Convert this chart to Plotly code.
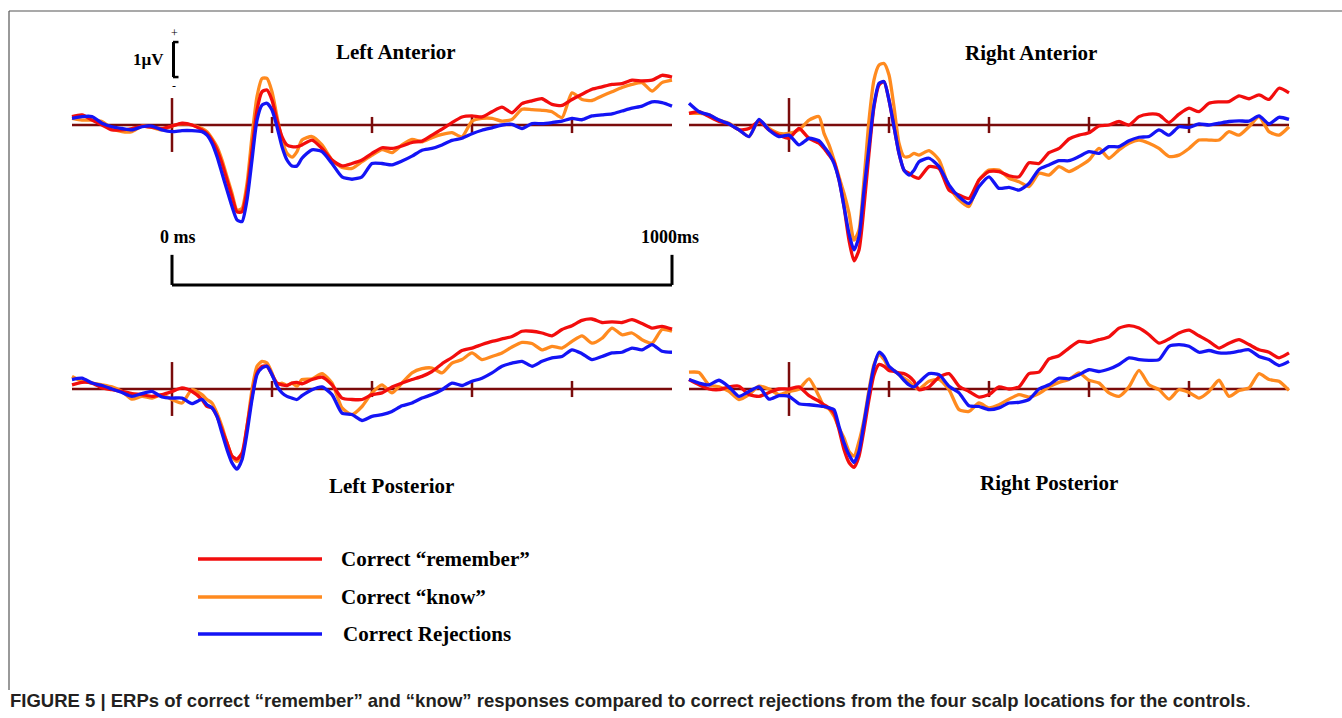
import plotly.graph_objects as go

# ---------------- data (time in ms, amplitude in microvolts, positive up) -------------
T = [-200, -180, -160, -140, -120, -100, -80, -60, -40, -20, 0, 20, 40, 60,
     70, 80, 90, 100, 110, 120, 130, 140, 150, 160, 170, 180, 190, 200, 210, 220, 230, 240, 250,
     260, 280, 300, 320, 340, 360, 380, 400, 420, 440, 460, 480, 500, 520, 540, 560, 580, 600,
     620, 640, 660, 680, 700, 720, 740, 760, 780, 800, 820, 840, 860, 880, 900, 920, 940, 960, 980, 1000]

series_names = ["Correct \u201cremember\u201d", "Correct \u201cknow\u201d", "Correct Rejections"]
panel_titles = ["Left Anterior", "Right Anterior", "Left Posterior", "Right Posterior"]
tick_times = [200, 400, 600, 800]

la_remember = [0.24, 0.29, 0.14, 0.0, -0.14, -0.14, -0.10, -0.03, -0.07, -0.10, -0.03, 0.05, 0.0, -0.14,
               -0.24, -0.43, -0.71, -1.10, -1.57, -2.05, -2.48, -2.48, -1.86, -0.71, 0.43, 0.95, 1.00, 0.71, 0.14, -0.33, -0.57, -0.62, -0.62,
               -0.57, -0.43, -0.67, -1.00, -1.17, -1.10, -1.00, -0.81, -0.65, -0.67, -0.60, -0.50, -0.46, -0.29, -0.12, 0.07, 0.23, 0.26,
               0.23, 0.38, 0.51, 0.35, 0.61, 0.69, 0.75, 0.59, 0.56, 0.73, 0.88, 1.02, 1.09, 1.16, 1.18, 1.28, 1.26, 1.28, 1.42, 1.37]
la_know = [0.19, 0.14, 0.14, 0.10, -0.10, -0.19, -0.19, -0.03, -0.07, -0.14, -0.03, 0.03, 0.0, -0.10,
           -0.19, -0.38, -0.62, -1.00, -1.48, -1.95, -2.43, -2.38, -1.67, -0.33, 0.81, 1.33, 1.33, 0.95, 0.24, -0.43, -0.81, -0.92, -0.76,
           -0.43, -0.33, -0.57, -1.00, -1.21, -1.24, -1.05, -0.86, -0.70, -0.79, -0.57, -0.41, -0.48, -0.36, -0.27, -0.22, -0.34, 0.11,
           0.19, 0.19, 0.11, 0.16, 0.45, 0.44, 0.42, 0.38, 0.21, 0.92, 0.73, 0.70, 0.83, 0.95, 1.07, 1.16, 1.21, 0.97, 1.21, 1.28]
la_reject = [0.19, 0.24, 0.24, 0.05, -0.05, -0.10, -0.14, -0.05, -0.03, -0.14, -0.19, -0.16, -0.16, -0.19,
             -0.29, -0.52, -0.90, -1.38, -1.86, -2.33, -2.71, -2.76, -2.14, -1.00, 0.14, 0.57, 0.62, 0.43, -0.05, -0.62, -1.00, -1.17, -1.17,
             -0.95, -0.71, -0.76, -1.10, -1.48, -1.55, -1.48, -1.10, -1.10, -1.14, -1.03, -0.89, -0.72, -0.67, -0.57, -0.44, -0.38, -0.25,
             -0.15, -0.08, 0.0, 0.02, -0.10, 0.04, 0.04, 0.07, 0.11, 0.19, 0.15, 0.26, 0.29, 0.32, 0.40, 0.48, 0.54, 0.66, 0.64, 0.54]

ra_remember = [0.33, 0.38, 0.24, 0.10, 0.03, -0.14, -0.10, 0.10, -0.14, -0.29, -0.38, -0.10, -0.38, -0.52,
               -0.67, -0.86, -1.05, -1.57, -2.33, -3.29, -3.88, -3.57, -2.33, -0.81, 0.52, 1.14, 1.24, 0.71, -0.05, -0.81, -1.29, -1.38, -1.48,
               -1.52, -1.19, -1.24, -1.86, -2.00, -2.10, -1.57, -1.33, -1.33, -1.45, -1.48, -1.08, -1.10, -0.79, -0.67, -0.40, -0.29, -0.22,
               -0.03, 0.0, 0.10, 0.0, 0.24, 0.31, 0.29, 0.07, 0.31, 0.48, 0.38, 0.62, 0.66, 0.67, 0.83, 0.75, 0.86, 0.73, 1.05, 0.92]
ra_know = [0.33, 0.33, 0.29, 0.14, 0.05, -0.14, -0.33, 0.14, -0.10, -0.24, -0.24, -0.14, 0.14, 0.24,
           -0.24, -0.57, -1.00, -1.48, -1.95, -2.52, -3.29, -3.00, -1.57, 0.14, 1.29, 1.71, 1.76, 1.43, 0.52, -0.52, -0.90, -0.90, -0.81,
           -0.86, -0.73, -1.00, -1.76, -2.14, -2.33, -1.57, -1.29, -1.29, -1.52, -1.62, -1.76, -1.38, -1.43, -1.19, -1.33, -1.19, -1.00,
           -0.67, -0.95, -0.71, -0.52, -0.43, -0.52, -0.67, -0.90, -0.86, -0.67, -0.43, -0.43, -0.43, -0.19, -0.29, -0.05, 0.24, -0.19, -0.29, -0.05]
ra_reject = [0.62, 0.38, 0.29, 0.14, 0.03, -0.14, -0.33, 0.16, -0.14, -0.33, -0.29, -0.57, -0.38, -0.45,
             -0.62, -0.81, -1.10, -1.57, -2.33, -3.10, -3.57, -3.19, -1.86, -0.62, 0.57, 1.19, 1.24, 0.71, -0.05, -0.81, -1.29, -1.43, -1.29,
             -1.05, -0.95, -1.19, -1.71, -2.05, -2.24, -1.76, -1.48, -1.81, -1.78, -1.86, -1.67, -1.27, -1.14, -1.02, -1.02, -0.90, -0.76,
             -0.81, -0.62, -0.62, -0.45, -0.35, -0.33, -0.14, -0.29, -0.05, -0.07, 0.03, 0.0, 0.05, 0.10, 0.12, 0.11, 0.26, 0.03, 0.22, 0.16]

lp_remember = [0.12, 0.19, 0.17, 0.03, -0.02, -0.07, -0.13, -0.16, -0.21, -0.16, -0.07, 0.03, -0.07, -0.30,
               -0.50, -0.54, -0.78, -1.16, -1.54, -1.92, -2.00, -1.83, -1.07, -0.21, 0.46, 0.65, 0.65, 0.41, 0.17, 0.12, 0.10, 0.17, 0.19,
               0.15, 0.27, 0.34, 0.12, -0.26, -0.30, -0.30, -0.16, -0.11, 0.06, 0.17, 0.27, 0.36, 0.50, 0.72, 0.90, 1.10, 1.17,
               1.27, 1.36, 1.43, 1.50, 1.65, 1.65, 1.60, 1.52, 1.70, 1.81, 1.96, 2.00, 1.90, 1.92, 1.90, 1.98, 1.87, 1.74, 1.79, 1.71]
lp_know = [0.36, 0.22, 0.17, 0.12, 0.06, -0.07, -0.29, -0.21, -0.26, -0.16, -0.30, -0.40, -0.02, -0.16,
           -0.30, -0.40, -0.69, -1.07, -1.54, -1.92, -2.07, -1.92, -1.07, -0.02, 0.65, 0.79, 0.74, 0.46, 0.12, 0.17, 0.10, 0.17, 0.08,
           0.27, 0.29, 0.44, 0.17, -0.54, -0.73, -0.50, -0.11, 0.12, -0.11, 0.17, 0.46, 0.58, 0.60, 0.46, 0.74, 0.84, 1.03,
           0.84, 0.93, 1.03, 1.20, 1.33, 1.30, 1.12, 1.22, 1.17, 1.36, 1.52, 1.31, 1.45, 1.74, 1.55, 1.60, 1.41, 1.31, 1.70, 1.65]
lp_reject = [0.27, 0.31, 0.17, 0.10, 0.0, -0.10, -0.21, -0.13, -0.07, -0.23, -0.26, -0.26, -0.42, -0.30,
             -0.45, -0.54, -0.78, -1.26, -1.73, -2.11, -2.29, -2.02, -1.26, -0.30, 0.41, 0.60, 0.65, 0.41, 0.08, -0.11, -0.21, -0.26, -0.30,
             -0.19, -0.02, 0.06, -0.16, -0.69, -0.73, -0.90, -0.78, -0.73, -0.64, -0.48, -0.40, -0.26, -0.16, -0.02, 0.17, 0.10, 0.22,
             0.31, 0.46, 0.65, 0.74, 0.79, 0.65, 0.79, 0.89, 0.93, 1.12, 1.01, 0.84, 0.93, 1.03, 1.05, 1.17, 1.12, 1.27, 1.08, 1.05]

rp_remember = [0.27, 0.12, 0.0, -0.02, 0.06, 0.08, -0.16, -0.21, -0.10, 0.0, 0.0, 0.06, -0.19, -0.35,
               -0.45, -0.54, -0.69, -1.16, -1.73, -2.10, -2.24, -1.92, -1.16, -0.30, 0.41, 0.70, 0.65, 0.53, 0.50, 0.46, 0.44, 0.36, 0.22,
               -0.02, 0.06, 0.34, 0.44, 0.08, -0.07, -0.23, -0.16, 0.06, 0.0, 0.06, 0.44, 0.48, 0.86, 0.95, 1.17, 1.36, 1.33,
               1.41, 1.49, 1.74, 1.81, 1.74, 1.55, 1.31, 1.43, 1.60, 1.68, 1.52, 1.36, 1.17, 1.31, 1.41, 1.27, 1.12, 1.05, 0.89, 1.03]
rp_know = [0.48, 0.47, 0.12, 0.06, -0.07, -0.30, -0.16, 0.08, 0.0, -0.16, -0.07, 0.0, 0.29, -0.21,
           -0.50, -0.57, -0.78, -1.11, -1.40, -1.78, -1.92, -1.50, -0.88, -0.02, 0.70, 0.98, 0.84, 0.60, 0.53, 0.41, 0.31, 0.22, 0.06,
           0.0, 0.22, 0.27, -0.02, -0.59, -0.64, -0.40, -0.54, -0.45, -0.29, -0.16, -0.23, -0.13, 0.06, 0.19, 0.27, 0.46, 0.25,
           0.17, -0.11, -0.21, 0.06, 0.53, 0.12, -0.02, -0.29, -0.02, -0.10, -0.26, -0.07, 0.25, -0.21, -0.04, 0.03, 0.44, 0.27, 0.22, -0.04]
rp_reject = [0.27, 0.17, 0.12, 0.25, 0.06, -0.21, -0.07, 0.06, -0.29, -0.19, -0.21, -0.42, -0.45, -0.48,
             -0.50, -0.54, -0.59, -1.07, -1.54, -1.88, -2.10, -1.78, -0.97, -0.11, 0.65, 1.05, 0.93, 0.65, 0.53, 0.41, 0.25, 0.12, 0.06,
             0.19, 0.44, 0.41, 0.08, -0.11, -0.48, -0.50, -0.59, -0.54, -0.40, -0.38, -0.30, 0.0, 0.12, 0.31, 0.29, 0.41, 0.55,
             0.50, 0.57, 0.70, 0.89, 0.84, 0.82, 0.84, 1.22, 1.27, 1.22, 1.05, 1.10, 1.03, 1.03, 1.08, 1.12, 0.93, 0.84, 0.67, 0.79]

panels = [
    (la_remember, la_know, la_reject),
    (ra_remember, ra_know, ra_reject),
    (lp_remember, lp_know, lp_reject),
    (rp_remember, rp_know, rp_reject),
]

# ---------------- styling ----------------
W, H = 1342, 718
RED, ORANGE, BLUE = "#f20d0d", "#ff8a1f", "#1414f5"
MAROON = "#7a0b0b"
SERIF = "Liberation Serif, Times New Roman, serif"
SANS = "Liberation Sans, Arial, sans-serif"
colors = [RED, ORANGE, BLUE]


def fx(px):
    return px / W


def fy(px):
    return 1 - px / H


# x/y domains in pixels (left, right), (top, bottom) and y ranges
X_LEFT = (62, 682)
X_RIGHT = (679, 1299)
X_RANGE = [-220, 1020]
Y_TOP = (20, 300)
Y_TOP_RANGE = [-5, 3]
Y_BOT = (305, 473)
Y_BOT_RANGE = [-2.4, 2.4]

axes_cfg = [(X_LEFT, Y_TOP, Y_TOP_RANGE), (X_RIGHT, Y_TOP, Y_TOP_RANGE),
            (X_LEFT, Y_BOT, Y_BOT_RANGE), (X_RIGHT, Y_BOT, Y_BOT_RANGE)]

fig = go.Figure()
layout_axes = {}
shapes = []

for i, (series, (xd, yd, yr)) in enumerate(zip(panels, axes_cfg)):
    n = "" if i == 0 else str(i + 1)
    xa, ya = "x" + n, "y" + n
    layout_axes["xaxis" + n] = dict(domain=[fx(xd[0]), fx(xd[1])], range=X_RANGE, visible=False,
                                    anchor=ya, fixedrange=True)
    layout_axes["yaxis" + n] = dict(domain=[fy(yd[1]), fy(yd[0])], range=yr, visible=False,
                                    anchor=xa, fixedrange=True)
    # baseline and time ticks
    shapes.append(dict(type="line", xref=xa, yref=ya, x0=T[0], x1=T[-1], y0=0, y1=0,
                       line=dict(color=MAROON, width=2.5), layer="below"))
    shapes.append(dict(type="line", xref=xa, yref=ya, x0=0, x1=0, y0=-0.77, y1=0.77,
                       line=dict(color=MAROON, width=2.5), layer="below"))
    for tt in tick_times:
        shapes.append(dict(type="line", xref=xa, yref=ya, x0=tt, x1=tt, y0=-0.23, y1=0.23,
                           line=dict(color=MAROON, width=2.5), layer="below"))
    for k in [1, 0, 2]:
        fig.add_trace(go.Scatter(x=T, y=series[k], mode="lines", name=series_names[k],
                                 line=dict(color=colors[k], width=3.3, shape="spline", smoothing=0.6),
                                 xaxis=xa, yaxis=ya, showlegend=False, hoverinfo="skip"))

# 1 microvolt scale bracket (Left Anterior axes)
shapes += [
    dict(type="line", xref="x", yref="y", x0=3, x1=3, y0=1.37, y1=2.37, line=dict(color="black", width=3)),
    dict(type="line", xref="x", yref="y", x0=2, x1=13, y0=2.37, y1=2.37, line=dict(color="black", width=2.5)),
    dict(type="line", xref="x", yref="y", x0=2, x1=13, y0=1.37, y1=1.37, line=dict(color="black", width=2.5)),
]
# 0-1000 ms time bracket (Left Anterior axes)
shapes += [
    dict(type="line", xref="x", yref="y", x0=0, x1=0, y0=-3.71, y1=-4.57, line=dict(color="black", width=3)),
    dict(type="line", xref="x", yref="y", x0=1000, x1=1000, y0=-3.71, y1=-4.57, line=dict(color="black", width=3)),
    dict(type="line", xref="x", yref="y", x0=0, x1=1000, y0=-4.57, y1=-4.57, line=dict(color="black", width=3)),
]

# frame
shapes += [
    dict(type="line", xref="paper", yref="paper", x0=fx(9), x1=1, y0=fy(11), y1=fy(11), line=dict(color="#555555", width=1.2)),
    dict(type="line", xref="paper", yref="paper", x0=fx(9), x1=fx(9), y0=fy(11), y1=fy(690), line=dict(color="#555555", width=1.2)),
]

annotations = []


def label(text, px, py, size, family=SERIF, xanchor="center", color="black"):
    annotations.append(dict(text=text, x=fx(px), y=fy(py), xref="paper", yref="paper",
                            xanchor=xanchor, yanchor="middle", showarrow=False,
                            font=dict(family=family, size=size, color=color)))


title_pos = [(396, 52), (1031, 53), (391, 486), (1049, 483)]
for title, (px, py) in zip(panel_titles, title_pos):
    label("<b>" + title + "</b>", px, py, 21)

label("<b>1\u00b5V</b>", 148, 60, 17)
label("+", 174, 33, 12)
label("-", 174, 86, 12)
label("<b>0 ms</b>", 178, 237, 18)
label("<b>1000ms</b>", 670, 237, 18)

# legend
legend_y = [559, 597, 634]
legend_x = [339, 339, 341]
for k in range(3):
    shapes.append(dict(type="line", xref="paper", yref="paper", x0=fx(198), x1=fx(322),
                       y0=fy(legend_y[k]), y1=fy(legend_y[k]), line=dict(color=colors[k], width=3.5)))
    label("<b>" + series_names[k] + "</b>", legend_x[k], legend_y[k], 21, xanchor="left")

label("<b>FIGURE 5 | ERPs of correct \u201cremember\u201d and \u201cknow\u201d responses compared to correct "
      "rejections from the four scalp locations for the controls</b>.", 8, 700, 18.5, family=SANS,
      xanchor="left", color="#231f20")

fig.update_layout(width=W, height=H, margin=dict(l=0, r=0, t=0, b=0), paper_bgcolor="white",
                  plot_bgcolor="rgba(0,0,0,0)", shapes=shapes, annotations=annotations,
                  showlegend=False, **layout_axes)

fig.write_html("out.html", config={"displayModeBar": False, "staticPlot": True},
               post_script="document.body.style.margin='0';document.body.style.overflow='hidden';")
